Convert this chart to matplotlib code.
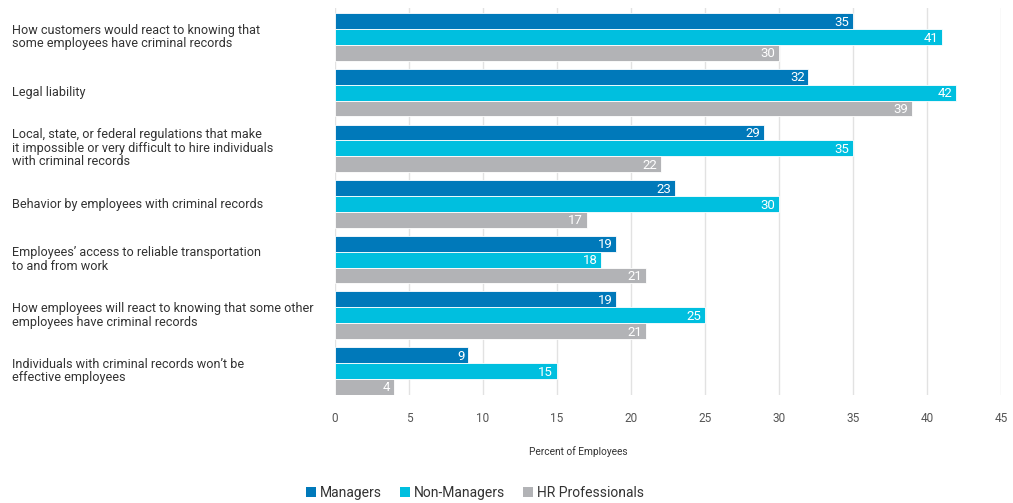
import matplotlib
matplotlib.use("Agg")
import matplotlib.pyplot as plt
import numpy as np
from matplotlib.patches import Patch

categories = [
    "How customers would react to knowing that\nsome employees have criminal records",
    "Legal liability",
    "Local, state, or federal regulations that make\nit impossible or very difficult to hire individuals\nwith criminal records",
    "Behavior by employees with criminal records",
    "Employees\u2019 access to reliable transportation\nto and from work",
    "How employees will react to knowing that some other\nemployees have criminal records",
    "Individuals with criminal records won\u2019t be\neffective employees",
]
series_names = ["Managers", "Non-Managers", "HR Professionals"]
managers = [35, 32, 29, 23, 19, 19, 9]
non_managers = [41, 42, 35, 30, 18, 25, 15]
hr_professionals = [30, 39, 22, 17, 21, 21, 4]
x_ticks = [0, 5, 10, 15, 20, 25, 30, 35, 40, 45]
x_label = "Percent of Employees"

colors = ["#0079BA", "#00BFDF", "#B2B3B6"]
plt.rcParams['font.family'] = ['Roboto', 'DejaVu Sans']

fig = plt.figure(figsize=(10.13, 5.03), dpi=100)
ax = fig.add_axes([0.3307, 0.215, 0.6573, 0.769])

n = len(categories)
y = np.arange(n)
h = 0.285
data = [managers, non_managers, hr_professionals]
for i, (vals, c) in enumerate(zip(data, colors)):
    pos = y + (i - 1) * h
    ax.barh(pos, vals, height=h, color=c, edgecolor="white", linewidth=0.6, zorder=3)
    for p, v in zip(pos, vals):
        ax.text(v - 0.25, p + 0.02, str(v), ha="right", va="center", color="white",
                fontsize=9.5, zorder=4)

ax.set_xlim(0, 45)
ax.set_ylim(6.43, -0.52)
ax.set_xticks(x_ticks)
ax.set_xticklabels([str(t) for t in x_ticks], fontsize=8.5, color="#555555")
ax.tick_params(axis="x", length=0, pad=12)
ax.set_yticks([])
for s in ax.spines.values():
    s.set_visible(False)
ax.grid(axis="x", color="#E2E2E2", linewidth=1, zorder=0)
ax.set_axisbelow(True)

for yi, cat in zip(y, categories):
    fig.text(12 / 1013, 1 - (37 + yi * 55.67) / 503, cat, ha="left", va="center",
             fontsize=9.1, color="#333333", linespacing=1.05)

fig.text(578 / 1013, 1 - 452 / 503, x_label, ha="center", va="center",
         fontsize=7.3, color="#333333")

handles = [Patch(facecolor=c, edgecolor="none") for c in colors]
fig.legend(handles, series_names, loc="center", bbox_to_anchor=(475 / 1013, 1 - 493 / 503),
           ncol=3, frameon=False, fontsize=10, handlelength=0.7, handleheight=0.7,
           handletextpad=0.3, columnspacing=1.3, labelcolor="#333333")

fig.savefig("out.png", dpi=100)
